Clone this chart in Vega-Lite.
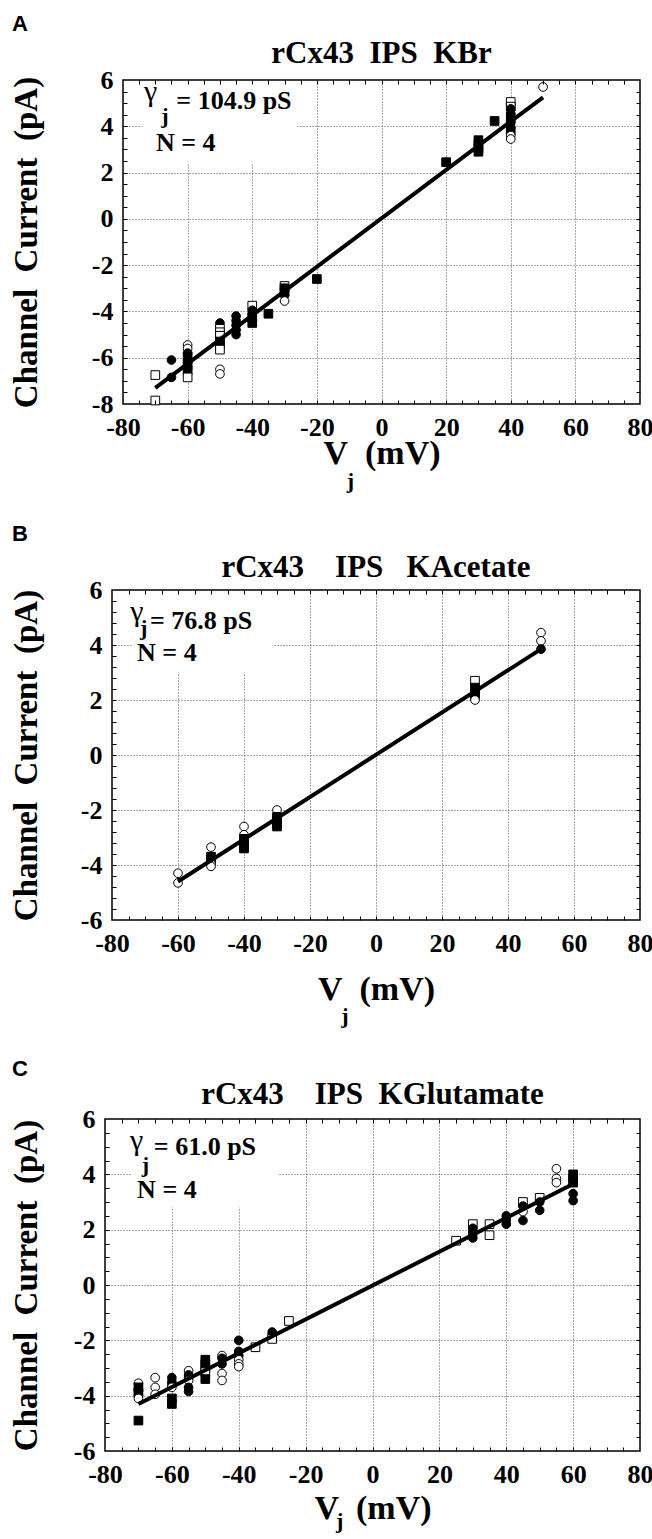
{
"$schema": "https://vega.github.io/schema/vega-lite/v6.json",
"padding": {"left": 8, "top": 13, "right": 0, "bottom": 0},
"background": "white",
"config": {
  "view": {"stroke": "black", "strokeWidth": 1.5},
  "font": "Liberation Serif",
  "style": {"guide-label": {"font": "Liberation Serif", "fontWeight": "bold", "fill": "black"}, "guide-title": {"font": "Liberation Serif", "fontWeight": "bold", "fill": "black"}},
  "axis": {"labelFont": "Liberation Serif", "labelFontSize": 26, "labelFontWeight": "bold", "labelColor": "black", "titleFont": "Liberation Serif", "titleFontSize": 34, "titleFontWeight": "bold", "titleColor": "black", "labelFlush": false, "labelOverlap": false, "labelBound": false, "grid": false, "ticks": false, "domain": false},
  "title": {"font": "Liberation Serif", "fontSize": 31, "fontWeight": "bold", "color": "black"},
  "text": {"color": "black", "font": "Liberation Serif"}
},
"datasets": {
  "A_pts": [
    {"v": -70, "i": -6.75, "cell": 3}, {"v": -70, "i": -7.85, "cell": 3},
    {"v": -65, "i": -6.1, "cell": 2}, {"v": -65, "i": -6.85, "cell": 2},
    {"v": -60, "i": -5.45, "cell": 1}, {"v": -60, "i": -5.6, "cell": 1}, {"v": -60, "i": -6.2, "cell": 1}, {"v": -60, "i": -5.8, "cell": 2}, {"v": -60, "i": -5.95, "cell": 4}, {"v": -60, "i": -6.15, "cell": 2}, {"v": -60, "i": -6.35, "cell": 4}, {"v": -60, "i": -6.55, "cell": 4}, {"v": -60, "i": -6.85, "cell": 3},
    {"v": -50, "i": -4.5, "cell": 2}, {"v": -50, "i": -4.75, "cell": 3}, {"v": -50, "i": -4.9, "cell": 3}, {"v": -50, "i": -5.05, "cell": 3}, {"v": -50, "i": -5.3, "cell": 4}, {"v": -50, "i": -5.45, "cell": 4}, {"v": -50, "i": -5.65, "cell": 3}, {"v": -50, "i": -6.5, "cell": 1}, {"v": -50, "i": -6.7, "cell": 1},
    {"v": -45, "i": -4.2, "cell": 2}, {"v": -45, "i": -4.4, "cell": 2}, {"v": -45, "i": -4.6, "cell": 2}, {"v": -45, "i": -4.8, "cell": 2}, {"v": -45, "i": -5.0, "cell": 2},
    {"v": -40, "i": -3.75, "cell": 3}, {"v": -40, "i": -3.95, "cell": 2}, {"v": -40, "i": -4.1, "cell": 2}, {"v": -40, "i": -4.25, "cell": 4}, {"v": -40, "i": -4.4, "cell": 2}, {"v": -40, "i": -4.5, "cell": 4},
    {"v": -35, "i": -4.1, "cell": 4},
    {"v": -30, "i": -2.9, "cell": 3}, {"v": -30, "i": -3.0, "cell": 4}, {"v": -30, "i": -3.15, "cell": 4}, {"v": -30, "i": -3.3, "cell": 2}, {"v": -30, "i": -3.55, "cell": 1},
    {"v": -20, "i": -2.6, "cell": 4},
    {"v": 20, "i": 2.45, "cell": 4},
    {"v": 30, "i": 3.4, "cell": 4}, {"v": 30, "i": 3.2, "cell": 4}, {"v": 30, "i": 3.05, "cell": 4}, {"v": 30, "i": 2.9, "cell": 4},
    {"v": 35, "i": 4.23, "cell": 4},
    {"v": 40, "i": 5.05, "cell": 3}, {"v": 40, "i": 4.85, "cell": 3}, {"v": 40, "i": 4.75, "cell": 2}, {"v": 40, "i": 4.55, "cell": 2}, {"v": 40, "i": 4.35, "cell": 4}, {"v": 40, "i": 4.15, "cell": 2}, {"v": 40, "i": 3.95, "cell": 2}, {"v": 40, "i": 3.8, "cell": 4}, {"v": 40, "i": 3.6, "cell": 1}, {"v": 40, "i": 3.45, "cell": 1},
    {"v": 50, "i": 5.7, "cell": 1}
  ],
  "A_fit": [{"v": -70, "i": -7.3}, {"v": 50, "i": 5.25}],
  "B_pts": [
    {"v": -60, "i": -4.3, "cell": 1}, {"v": -60, "i": -4.65, "cell": 1},
    {"v": -50, "i": -3.35, "cell": 1}, {"v": -50, "i": -3.7, "cell": 4}, {"v": -50, "i": -3.8, "cell": 4}, {"v": -50, "i": -3.95, "cell": 1}, {"v": -50, "i": -4.05, "cell": 1},
    {"v": -40, "i": -2.6, "cell": 1}, {"v": -40, "i": -2.9, "cell": 1}, {"v": -40, "i": -3.05, "cell": 4}, {"v": -40, "i": -3.15, "cell": 4}, {"v": -40, "i": -3.3, "cell": 4}, {"v": -40, "i": -3.4, "cell": 4},
    {"v": -30, "i": -2.0, "cell": 1}, {"v": -30, "i": -2.25, "cell": 4}, {"v": -30, "i": -2.35, "cell": 4}, {"v": -30, "i": -2.5, "cell": 4}, {"v": -30, "i": -2.6, "cell": 4},
    {"v": 30, "i": 2.7, "cell": 3}, {"v": 30, "i": 2.45, "cell": 4}, {"v": 30, "i": 2.3, "cell": 4}, {"v": 30, "i": 2.2, "cell": 4}, {"v": 30, "i": 2.1, "cell": 2}, {"v": 30, "i": 2.0, "cell": 1},
    {"v": 50, "i": 4.45, "cell": 1}, {"v": 50, "i": 4.15, "cell": 1}, {"v": 50, "i": 3.85, "cell": 2}
  ],
  "B_fit": [{"v": -60, "i": -4.6}, {"v": 50, "i": 3.85}],
  "C_pts": [
    {"v": -70, "i": -3.55, "cell": 1}, {"v": -70, "i": -3.7, "cell": 4}, {"v": -70, "i": -3.8, "cell": 2}, {"v": -70, "i": -3.9, "cell": 4}, {"v": -70, "i": -4.0, "cell": 2}, {"v": -70, "i": -4.1, "cell": 1}, {"v": -70, "i": -4.9, "cell": 4},
    {"v": -65, "i": -3.35, "cell": 1}, {"v": -65, "i": -3.7, "cell": 1}, {"v": -65, "i": -3.95, "cell": 1},
    {"v": -60, "i": -3.35, "cell": 2}, {"v": -60, "i": -3.5, "cell": 2}, {"v": -60, "i": -3.6, "cell": 2}, {"v": -60, "i": -3.7, "cell": 1}, {"v": -60, "i": -4.1, "cell": 4}, {"v": -60, "i": -4.3, "cell": 4},
    {"v": -55, "i": -3.1, "cell": 1}, {"v": -55, "i": -3.25, "cell": 2}, {"v": -55, "i": -3.35, "cell": 2}, {"v": -55, "i": -3.45, "cell": 1}, {"v": -55, "i": -3.7, "cell": 2}, {"v": -55, "i": -3.85, "cell": 2},
    {"v": -50, "i": -2.7, "cell": 4}, {"v": -50, "i": -2.85, "cell": 4}, {"v": -50, "i": -3.0, "cell": 4}, {"v": -50, "i": -3.15, "cell": 3}, {"v": -50, "i": -3.4, "cell": 4},
    {"v": -45, "i": -2.55, "cell": 1}, {"v": -45, "i": -2.65, "cell": 2}, {"v": -45, "i": -2.85, "cell": 2}, {"v": -45, "i": -3.2, "cell": 1}, {"v": -45, "i": -3.45, "cell": 1},
    {"v": -40, "i": -2.0, "cell": 2}, {"v": -40, "i": -2.4, "cell": 2}, {"v": -40, "i": -2.55, "cell": 2}, {"v": -40, "i": -2.7, "cell": 1}, {"v": -40, "i": -2.85, "cell": 1}, {"v": -40, "i": -2.95, "cell": 1},
    {"v": -35, "i": -2.25, "cell": 3},
    {"v": -30, "i": -1.7, "cell": 2}, {"v": -30, "i": -1.8, "cell": 2}, {"v": -30, "i": -1.95, "cell": 3},
    {"v": -25, "i": -1.3, "cell": 3},
    {"v": 25, "i": 1.6, "cell": 3},
    {"v": 30, "i": 2.2, "cell": 3}, {"v": 30, "i": 2.05, "cell": 2}, {"v": 30, "i": 1.95, "cell": 2}, {"v": 30, "i": 1.85, "cell": 2}, {"v": 30, "i": 1.7, "cell": 2},
    {"v": 35, "i": 2.2, "cell": 3}, {"v": 35, "i": 1.8, "cell": 3},
    {"v": 40, "i": 2.5, "cell": 2}, {"v": 40, "i": 2.35, "cell": 2}, {"v": 40, "i": 2.2, "cell": 2},
    {"v": 45, "i": 3.0, "cell": 3}, {"v": 45, "i": 2.85, "cell": 2}, {"v": 45, "i": 2.65, "cell": 1}, {"v": 45, "i": 2.33, "cell": 2},
    {"v": 50, "i": 3.15, "cell": 3}, {"v": 50, "i": 3.0, "cell": 2}, {"v": 50, "i": 2.7, "cell": 2},
    {"v": 55, "i": 4.2, "cell": 1}, {"v": 55, "i": 3.85, "cell": 1}, {"v": 55, "i": 3.7, "cell": 1},
    {"v": 60, "i": 4.0, "cell": 4}, {"v": 60, "i": 3.85, "cell": 4}, {"v": 60, "i": 3.7, "cell": 4}, {"v": 60, "i": 3.3, "cell": 2}, {"v": 60, "i": 3.05, "cell": 2}
  ],
  "C_fit": [{"v": -70, "i": -4.3}, {"v": 60, "i": 3.65}]
},
"vconcat": [
  {
    "title": {"text": "A", "anchor": "start", "frame": "group", "font": "Liberation Sans", "fontSize": 22, "fontWeight": "bold", "offset": 1, "dx": 4},
    "concat": [
      {"width": 1, "height": 1, "view": {"stroke": null}, "data": {"values": [{}]}, "mark": {"type": "text", "text": ""}, "encoding": {}},
      {
        "width": 517, "height": 324,
        "title": {"text": "rCx43\u00a0\u00a0IPS\u00a0\u00a0KBr", "offset": -3},
        "resolve": {"axis": {"x": "independent", "y": "independent"}},
        "layer": [
          {"data": {"values": [{}]}, "mark": {"type": "rect", "fill": "white"},
           "encoding": {
             "x": {"datum": -74, "type": "quantitative", "scale": {"domain": [-80, 80], "nice": false, "zero": false}, "axis": {"orient": "bottom", "values": [-60, -40, -20, 0, 20, 40, 60], "grid": true, "gridColor": "#555", "gridDash": [1, 2], "gridWidth": 1, "labels": false, "ticks": false, "domain": false, "title": null}},
             "x2": {"datum": -26},
             "y": {"datum": 2.4, "type": "quantitative", "scale": {"domain": [-8, 6], "nice": false, "zero": false}, "axis": {"orient": "left", "values": [-6, -4, -2, 0, 2, 4], "grid": true, "gridColor": "#555", "gridDash": [1, 2], "gridWidth": 1, "labels": false, "ticks": false, "domain": false, "title": null}},
             "y2": {"datum": 5.95}
           }},
          {"data": {"name": "A_pts"}, "mark": {"type": "point", "filled": true, "size": 75, "stroke": "black", "strokeWidth": 1, "opacity": 1},
           "encoding": {
             "x": {"field": "v", "type": "quantitative", "scale": {"domain": [-80, 80], "nice": false, "zero": false}, "axis": {"orient": "bottom", "values": [-80, -60, -40, -20, 0, 20, 40, 60, 80], "labelExpr": "'' + datum.value", "labelFont": "Liberation Serif", "labelFontWeight": "bold", "labelFontSize": 26, "labelPadding": 10, "title": "V\u00a0\u00a0(mV)", "titleFont": "Liberation Serif", "titleFontWeight": "bold", "titleFontSize": 34, "titlePadding": -4}},
             "y": {"field": "i", "type": "quantitative", "scale": {"domain": [-8, 6], "nice": false, "zero": false}, "axis": {"orient": "left", "values": [-8, -6, -4, -2, 0, 2, 4, 6], "labelExpr": "'' + datum.value", "labelFont": "Liberation Serif", "labelFontWeight": "bold", "labelFontSize": 26, "labelPadding": 10, "title": "Channel\u00a0\u00a0Current\u00a0\u00a0(pA)", "titleFont": "Liberation Serif", "titleFontWeight": "bold", "titleFontSize": 33, "titlePadding": 48}},
             "shape": {"field": "cell", "type": "nominal", "scale": {"domain": [1, 2, 3, 4], "range": ["circle", "circle", "square", "square"]}, "legend": null},
             "fill": {"field": "cell", "type": "nominal", "scale": {"domain": [1, 2, 3, 4], "range": ["white", "black", "white", "black"]}, "legend": null}
           }},
          {"data": {"name": "A_fit"}, "mark": {"type": "line", "color": "black", "strokeWidth": 4},
           "encoding": {
             "x": {"field": "v", "type": "quantitative", "scale": {"domain": [-80, 80], "nice": false, "zero": false}, "axis": {"orient": "bottom", "values": [-75, -70, -65, -60, -55, -50, -45, -40, -35, -30, -25, -20, -15, -10, -5, 0, 5, 10, 15, 20, 25, 30, 35, 40, 45, 50, 55, 60, 65, 70, 75], "labels": false, "ticks": true, "tickSize": -4, "tickColor": "black", "tickWidth": 1, "grid": false, "domain": false, "title": null, "zindex": 1}},
             "y": {"field": "i", "type": "quantitative", "scale": {"domain": [-8, 6], "nice": false, "zero": false}, "axis": {"orient": "left", "values": [-7.5, -7, -6.5, -6, -5.5, -5, -4.5, -4, -3.5, -3, -2.5, -2, -1.5, -1, -0.5, 0, 0.5, 1, 1.5, 2, 2.5, 3, 3.5, 4, 4.5, 5, 5.5], "labels": false, "ticks": true, "tickSize": -4, "tickColor": "black", "tickWidth": 1, "grid": false, "domain": false, "title": null, "zindex": 1}}
           }},
          {"data": {"values": [{}]}, "mark": {"type": "text", "text": "γ", "font": "Liberation Serif", "fontSize": 30, "align": "left", "baseline": "alphabetic"},
           "encoding": {
             "x": {"datum": -73.5, "type": "quantitative", "scale": {"domain": [-80, 80], "nice": false, "zero": false}, "axis": {"orient": "top", "values": [-75, -70, -65, -60, -55, -50, -45, -40, -35, -30, -25, -20, -15, -10, -5, 0, 5, 10, 15, 20, 25, 30, 35, 40, 45, 50, 55, 60, 65, 70, 75], "labels": false, "ticks": true, "tickSize": -4, "tickColor": "black", "tickWidth": 1, "grid": false, "domain": false, "title": null, "zindex": 1}},
             "y": {"datum": 5.1, "type": "quantitative", "scale": {"domain": [-8, 6], "nice": false, "zero": false}, "axis": {"orient": "right", "values": [-7.5, -7, -6.5, -6, -5.5, -5, -4.5, -4, -3.5, -3, -2.5, -2, -1.5, -1, -0.5, 0, 0.5, 1, 1.5, 2, 2.5, 3, 3.5, 4, 4.5, 5, 5.5], "labels": false, "ticks": true, "tickSize": -4, "tickColor": "black", "tickWidth": 1, "grid": false, "domain": false, "title": null, "zindex": 1}}
           }},
          {"data": {"values": [{}]}, "mark": {"type": "text", "text": "j", "fontSize": 22, "fontWeight": "bold", "align": "left", "baseline": "alphabetic"},
           "encoding": {"x": {"datum": -68.2, "type": "quantitative", "axis": null}, "y": {"datum": 4.16, "type": "quantitative", "axis": null}}},
          {"data": {"values": [{}]}, "mark": {"type": "text", "text": "= 104.9 pS", "fontSize": 26, "fontWeight": "bold", "align": "left", "baseline": "alphabetic"},
           "encoding": {"x": {"datum": -63.5, "type": "quantitative", "axis": null}, "y": {"datum": 4.75, "type": "quantitative", "axis": null}}},
          {"data": {"values": [{}]}, "mark": {"type": "text", "text": "N = 4", "fontSize": 26, "fontWeight": "bold", "align": "left", "baseline": "alphabetic"},
           "encoding": {"x": {"datum": -69.8, "type": "quantitative", "axis": null}, "y": {"datum": 2.93, "type": "quantitative", "axis": null}}},
          {"data": {"values": [{}]}, "mark": {"type": "text", "text": "j", "fontSize": 22, "fontWeight": "bold", "align": "center", "baseline": "alphabetic"},
           "encoding": {"x": {"datum": -9.6, "type": "quantitative", "axis": null}, "y": {"datum": -11.63, "type": "quantitative", "axis": null}}}
        ]
      }
    ],
    "columns": 2, "align": "each", "spacing": 0
  },
  {
    "title": {"text": "B", "anchor": "start", "frame": "group", "font": "Liberation Sans", "fontSize": 22, "fontWeight": "bold", "offset": 5, "dx": 4},
    "concat": [
      {"width": 1, "height": 1, "view": {"stroke": null}, "data": {"values": [{}]}, "mark": {"type": "text", "text": ""}, "encoding": {}},
      {
        "width": 528, "height": 330,
        "title": {"text": "rCx43\u00a0\u00a0\u00a0\u00a0IPS\u00a0\u00a0\u00a0KAcetate", "offset": -7},
        "resolve": {"axis": {"x": "independent", "y": "independent"}},
        "layer": [
          {"data": {"values": [{}]}, "mark": {"type": "rect", "fill": "white"},
           "encoding": {
             "x": {"datum": -74, "type": "quantitative", "scale": {"domain": [-80, 80], "nice": false, "zero": false}, "axis": {"orient": "bottom", "values": [-60, -40, -20, 0, 20, 40, 60], "grid": true, "gridColor": "#555", "gridDash": [1, 2], "gridWidth": 1, "labels": false, "ticks": false, "domain": false, "title": null}},
             "x2": {"datum": -31},
             "y": {"datum": 3.0, "type": "quantitative", "scale": {"domain": [-6, 6], "nice": false, "zero": false}, "axis": {"orient": "left", "values": [-4, -2, 0, 2, 4], "grid": true, "gridColor": "#555", "gridDash": [1, 2], "gridWidth": 1, "labels": false, "ticks": false, "domain": false, "title": null}},
             "y2": {"datum": 5.95}
           }},
          {"data": {"name": "B_pts"}, "mark": {"type": "point", "filled": true, "size": 75, "stroke": "black", "strokeWidth": 1, "opacity": 1},
           "encoding": {
             "x": {"field": "v", "type": "quantitative", "scale": {"domain": [-80, 80], "nice": false, "zero": false}, "axis": {"orient": "bottom", "values": [-80, -60, -40, -20, 0, 20, 40, 60, 80], "labelExpr": "'' + datum.value", "labelFont": "Liberation Serif", "labelFontWeight": "bold", "labelFontSize": 26, "labelPadding": 10, "title": "V\u00a0\u00a0(mV)", "titleFont": "Liberation Serif", "titleFontWeight": "bold", "titleFontSize": 34, "titlePadding": 16}},
             "y": {"field": "i", "type": "quantitative", "scale": {"domain": [-6, 6], "nice": false, "zero": false}, "axis": {"orient": "left", "values": [-6, -4, -2, 0, 2, 4, 6], "labelExpr": "'' + datum.value", "labelFont": "Liberation Serif", "labelFontWeight": "bold", "labelFontSize": 26, "labelPadding": 10, "title": "Channel\u00a0\u00a0Current\u00a0\u00a0(pA)", "titleFont": "Liberation Serif", "titleFontWeight": "bold", "titleFontSize": 33, "titlePadding": 37}},
             "shape": {"field": "cell", "type": "nominal", "scale": {"domain": [1, 2, 3, 4], "range": ["circle", "circle", "square", "square"]}, "legend": null},
             "fill": {"field": "cell", "type": "nominal", "scale": {"domain": [1, 2, 3, 4], "range": ["white", "black", "white", "black"]}, "legend": null}
           }},
          {"data": {"name": "B_fit"}, "mark": {"type": "line", "color": "black", "strokeWidth": 4},
           "encoding": {
             "x": {"field": "v", "type": "quantitative", "scale": {"domain": [-80, 80], "nice": false, "zero": false}, "axis": {"orient": "bottom", "values": [-75, -70, -65, -60, -55, -50, -45, -40, -35, -30, -25, -20, -15, -10, -5, 0, 5, 10, 15, 20, 25, 30, 35, 40, 45, 50, 55, 60, 65, 70, 75], "labels": false, "ticks": true, "tickSize": -4, "tickColor": "black", "tickWidth": 1, "grid": false, "domain": false, "title": null, "zindex": 1}},
             "y": {"field": "i", "type": "quantitative", "scale": {"domain": [-6, 6], "nice": false, "zero": false}, "axis": {"orient": "left", "values": [-5.6, -5.2, -4.8, -4.4, -4, -3.6, -3.2, -2.8, -2.4, -2, -1.6, -1.2, -0.8, -0.4, 0, 0.4, 0.8, 1.2, 1.6, 2, 2.4, 2.8, 3.2, 3.6, 4, 4.4, 4.8, 5.2, 5.6], "labels": false, "ticks": true, "tickSize": -4, "tickColor": "black", "tickWidth": 1, "grid": false, "domain": false, "title": null, "zindex": 1}}
           }},
          {"data": {"values": [{}]}, "mark": {"type": "text", "text": "γ", "font": "Liberation Serif", "fontSize": 30, "align": "left", "baseline": "alphabetic"},
           "encoding": {
             "x": {"datum": -74.5, "type": "quantitative", "scale": {"domain": [-80, 80], "nice": false, "zero": false}, "axis": {"orient": "top", "values": [-75, -70, -65, -60, -55, -50, -45, -40, -35, -30, -25, -20, -15, -10, -5, 0, 5, 10, 15, 20, 25, 30, 35, 40, 45, 50, 55, 60, 65, 70, 75], "labels": false, "ticks": true, "tickSize": -4, "tickColor": "black", "tickWidth": 1, "grid": false, "domain": false, "title": null, "zindex": 1}},
             "y": {"datum": 4.87, "type": "quantitative", "scale": {"domain": [-6, 6], "nice": false, "zero": false}, "axis": {"orient": "right", "values": [-5.6, -5.2, -4.8, -4.4, -4, -3.6, -3.2, -2.8, -2.4, -2, -1.6, -1.2, -0.8, -0.4, 0, 0.4, 0.8, 1.2, 1.6, 2, 2.4, 2.8, 3.2, 3.6, 4, 4.4, 4.8, 5.2, 5.6], "labels": false, "ticks": true, "tickSize": -4, "tickColor": "black", "tickWidth": 1, "grid": false, "domain": false, "title": null, "zindex": 1}}
           }},
          {"data": {"values": [{}]}, "mark": {"type": "text", "text": "j", "fontSize": 22, "fontWeight": "bold", "align": "left", "baseline": "alphabetic"},
           "encoding": {"x": {"datum": -71.5, "type": "quantitative", "axis": null}, "y": {"datum": 4.36, "type": "quantitative", "axis": null}}},
          {"data": {"values": [{}]}, "mark": {"type": "text", "text": "= 76.8 pS", "fontSize": 26, "fontWeight": "bold", "align": "left", "baseline": "alphabetic"},
           "encoding": {"x": {"datum": -68.5, "type": "quantitative", "axis": null}, "y": {"datum": 4.58, "type": "quantitative", "axis": null}}},
          {"data": {"values": [{}]}, "mark": {"type": "text", "text": "N = 4", "fontSize": 26, "fontWeight": "bold", "align": "left", "baseline": "alphabetic"},
           "encoding": {"x": {"datum": -72.4, "type": "quantitative", "axis": null}, "y": {"datum": 3.42, "type": "quantitative", "axis": null}}},
          {"data": {"values": [{}]}, "mark": {"type": "text", "text": "j", "fontSize": 22, "fontWeight": "bold", "align": "center", "baseline": "alphabetic"},
           "encoding": {"x": {"datum": -9.4, "type": "quantitative", "axis": null}, "y": {"datum": -9.75, "type": "quantitative", "axis": null}}}
        ]
      }
    ],
    "columns": 2, "align": "each", "spacing": 0
  },
  {
    "title": {"text": "C", "anchor": "start", "frame": "group", "font": "Liberation Sans", "fontSize": 22, "fontWeight": "bold", "offset": -3, "dx": 4},
    "concat": [
      {"width": 1, "height": 1, "view": {"stroke": null}, "data": {"values": [{}]}, "mark": {"type": "text", "text": ""}, "encoding": {}},
      {
        "width": 535, "height": 332,
        "title": {"text": "rCx43\u00a0\u00a0\u00a0\u00a0IPS\u00a0\u00a0KGlutamate", "offset": -5},
        "resolve": {"axis": {"x": "independent", "y": "independent"}},
        "layer": [
          {"data": {"values": [{}]}, "mark": {"type": "rect", "fill": "white"},
           "encoding": {
             "x": {"datum": -72, "type": "quantitative", "scale": {"domain": [-80, 80], "nice": false, "zero": false}, "axis": {"orient": "bottom", "values": [-60, -40, -20, 0, 20, 40, 60], "grid": true, "gridColor": "#555", "gridDash": [1, 2], "gridWidth": 1, "labels": false, "ticks": false, "domain": false, "title": null}},
             "x2": {"datum": -28},
             "y": {"datum": 2.8, "type": "quantitative", "scale": {"domain": [-6, 6], "nice": false, "zero": false}, "axis": {"orient": "left", "values": [-4, -2, 0, 2, 4], "grid": true, "gridColor": "#555", "gridDash": [1, 2], "gridWidth": 1, "labels": false, "ticks": false, "domain": false, "title": null}},
             "y2": {"datum": 5.95}
           }},
          {"data": {"name": "C_pts"}, "mark": {"type": "point", "filled": true, "size": 75, "stroke": "black", "strokeWidth": 1, "opacity": 1},
           "encoding": {
             "x": {"field": "v", "type": "quantitative", "scale": {"domain": [-80, 80], "nice": false, "zero": false}, "axis": {"orient": "bottom", "values": [-80, -60, -40, -20, 0, 20, 40, 60, 80], "labelExpr": "'' + datum.value", "labelFont": "Liberation Serif", "labelFontWeight": "bold", "labelFontSize": 26, "labelPadding": 10, "title": "V\u00a0\u00a0(mV)", "titleFont": "Liberation Serif", "titleFontWeight": "bold", "titleFontSize": 34, "titlePadding": 4}},
             "y": {"field": "i", "type": "quantitative", "scale": {"domain": [-6, 6], "nice": false, "zero": false}, "axis": {"orient": "left", "values": [-6, -4, -2, 0, 2, 4, 6], "labelExpr": "'' + datum.value", "labelFont": "Liberation Serif", "labelFontWeight": "bold", "labelFontSize": 26, "labelPadding": 10, "title": "Channel\u00a0\u00a0Current\u00a0\u00a0(pA)", "titleFont": "Liberation Serif", "titleFontWeight": "bold", "titleFontSize": 33, "titlePadding": 30}},
             "shape": {"field": "cell", "type": "nominal", "scale": {"domain": [1, 2, 3, 4], "range": ["circle", "circle", "square", "square"]}, "legend": null},
             "fill": {"field": "cell", "type": "nominal", "scale": {"domain": [1, 2, 3, 4], "range": ["white", "black", "white", "black"]}, "legend": null}
           }},
          {"data": {"name": "C_fit"}, "mark": {"type": "line", "color": "black", "strokeWidth": 4},
           "encoding": {
             "x": {"field": "v", "type": "quantitative", "scale": {"domain": [-80, 80], "nice": false, "zero": false}, "axis": {"orient": "bottom", "values": [-75, -70, -65, -60, -55, -50, -45, -40, -35, -30, -25, -20, -15, -10, -5, 0, 5, 10, 15, 20, 25, 30, 35, 40, 45, 50, 55, 60, 65, 70, 75], "labels": false, "ticks": true, "tickSize": -4, "tickColor": "black", "tickWidth": 1, "grid": false, "domain": false, "title": null, "zindex": 1}},
             "y": {"field": "i", "type": "quantitative", "scale": {"domain": [-6, 6], "nice": false, "zero": false}, "axis": {"orient": "left", "values": [-5.5, -5, -4.5, -4, -3.5, -3, -2.5, -2, -1.5, -1, -0.5, 0, 0.5, 1, 1.5, 2, 2.5, 3, 3.5, 4, 4.5, 5, 5.5], "labels": false, "ticks": true, "tickSize": -4, "tickColor": "black", "tickWidth": 1, "grid": false, "domain": false, "title": null, "zindex": 1}}
           }},
          {"data": {"values": [{}]}, "mark": {"type": "text", "text": "γ", "font": "Liberation Serif", "fontSize": 30, "align": "left", "baseline": "alphabetic"},
           "encoding": {
             "x": {"datum": -72.5, "type": "quantitative", "scale": {"domain": [-80, 80], "nice": false, "zero": false}, "axis": {"orient": "top", "values": [-75, -70, -65, -60, -55, -50, -45, -40, -35, -30, -25, -20, -15, -10, -5, 0, 5, 10, 15, 20, 25, 30, 35, 40, 45, 50, 55, 60, 65, 70, 75], "labels": false, "ticks": true, "tickSize": -4, "tickColor": "black", "tickWidth": 1, "grid": false, "domain": false, "title": null, "zindex": 1}},
             "y": {"datum": 4.88, "type": "quantitative", "scale": {"domain": [-6, 6], "nice": false, "zero": false}, "axis": {"orient": "right", "values": [-5.5, -5, -4.5, -4, -3.5, -3, -2.5, -2, -1.5, -1, -0.5, 0, 0.5, 1, 1.5, 2, 2.5, 3, 3.5, 4, 4.5, 5, 5.5], "labels": false, "ticks": true, "tickSize": -4, "tickColor": "black", "tickWidth": 1, "grid": false, "domain": false, "title": null, "zindex": 1}}
           }},
          {"data": {"values": [{}]}, "mark": {"type": "text", "text": "j", "fontSize": 22, "fontWeight": "bold", "align": "left", "baseline": "alphabetic"},
           "encoding": {"x": {"datum": -69.0, "type": "quantitative", "axis": null}, "y": {"datum": 4.08, "type": "quantitative", "axis": null}}},
          {"data": {"values": [{}]}, "mark": {"type": "text", "text": "= 61.0 pS", "fontSize": 26, "fontWeight": "bold", "align": "left", "baseline": "alphabetic"},
           "encoding": {"x": {"datum": -65.4, "type": "quantitative", "axis": null}, "y": {"datum": 4.7, "type": "quantitative", "axis": null}}},
          {"data": {"values": [{}]}, "mark": {"type": "text", "text": "N = 4", "fontSize": 26, "fontWeight": "bold", "align": "left", "baseline": "alphabetic"},
           "encoding": {"x": {"datum": -70.4, "type": "quantitative", "axis": null}, "y": {"datum": 3.14, "type": "quantitative", "axis": null}}},
          {"data": {"values": [{}]}, "mark": {"type": "text", "text": "j", "fontSize": 22, "fontWeight": "bold", "align": "center", "baseline": "alphabetic"},
           "encoding": {"x": {"datum": -9.8, "type": "quantitative", "axis": null}, "y": {"datum": -8.8, "type": "quantitative", "axis": null}}}
        ]
      }
    ],
    "columns": 2, "align": "each", "spacing": 0
  }
],
"spacing": 30
}
